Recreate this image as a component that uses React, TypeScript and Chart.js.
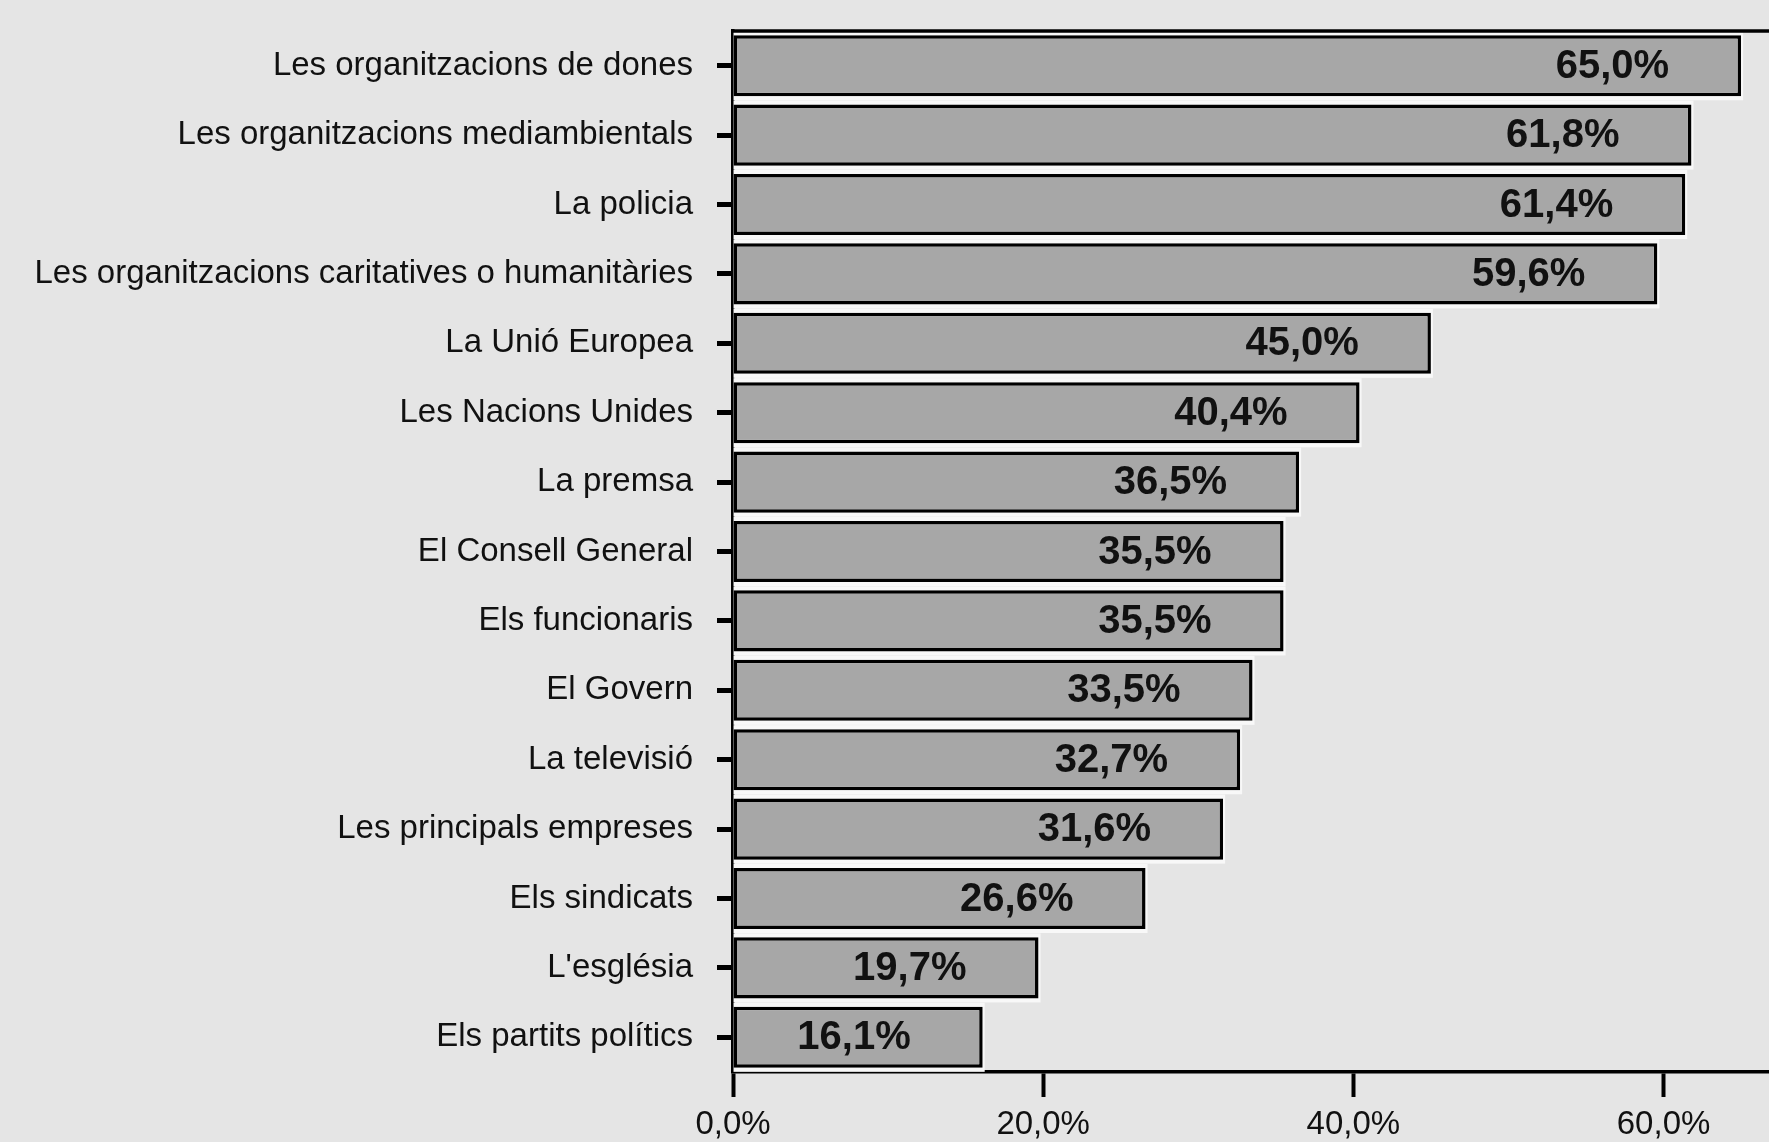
import React, { useEffect, useRef } from "react";
import { Chart, registerables } from "chart.js";

Chart.register(...registerables);

const categories = [
  "Les organitzacions de dones",
  "Les organitzacions mediambientals",
  "La policia",
  "Les organitzacions caritatives o humanitàries",
  "La Unió Europea",
  "Les Nacions Unides",
  "La premsa",
  "El Consell General",
  "Els funcionaris",
  "El Govern",
  "La televisió",
  "Les principals empreses",
  "Els sindicats",
  "L'església",
  "Els partits polítics",
];

const values = [65.0, 61.8, 61.4, 59.6, 45.0, 40.4, 36.5, 35.5, 35.5, 33.5, 32.7, 31.6, 26.6, 19.7, 16.1];

const xTickValues = [0, 20, 40, 60];

const fmt = (v: number) => v.toFixed(1).replace(".", ",") + "%";

const FONT = "'Liberation Sans', Arial, sans-serif";
const BG = "#e5e5e5";
const BAR = "#a7a7a7";
const INK = "#111111";

const framePlugin = {
  id: "frame",
  beforeDraw(chart: any) {
    const { ctx, width, height } = chart;
    ctx.save();
    ctx.fillStyle = BG;
    ctx.fillRect(0, 0, width, height);
    ctx.restore();
  },
  beforeDatasetsDraw(chart: any) {
    const { ctx } = chart;
    const meta = chart.getDatasetMeta(0);
    ctx.save();
    ctx.fillStyle = "#f8f8f8";
    meta.data.forEach((bar: any) => {
      const p = bar.getProps(["x", "y", "base", "height"], true);
      ctx.fillRect(p.base, p.y - p.height / 2 - 4, p.x - p.base + 2, p.height + 8);
    });
    ctx.restore();
  },
  afterDatasetsDraw(chart: any) {
    const { ctx, chartArea } = chart;
    const meta = chart.getDatasetMeta(0);
    ctx.save();
    ctx.fillStyle = INK;
    ctx.font = `bold 40px ${FONT}`;
    ctx.textAlign = "right";
    ctx.textBaseline = "middle";
    meta.data.forEach((bar: any, i: number) => {
      const p = bar.getProps(["x", "y"], true);
      ctx.fillText(fmt(values[i]), p.x - 72, p.y + 1);
    });
    ctx.strokeStyle = "#000";
    ctx.lineWidth = 3.5;
    ctx.beginPath();
    ctx.moveTo(chartArea.left - 1.5, chartArea.top);
    ctx.lineTo(chartArea.right, chartArea.top);
    ctx.stroke();
    ctx.restore();
  },
};

export default function App() {
  const ref = useRef<HTMLCanvasElement | null>(null);
  useEffect(() => {
    if (!ref.current) return;
    const chart = new Chart(ref.current, {
      type: "bar",
      data: {
        labels: categories,
        datasets: [
          {
            data: values,
            backgroundColor: BAR,
            borderColor: "#000",
            borderWidth: 3.5,
            borderSkipped: false,
            categoryPercentage: 1,
            barPercentage: 0.88,
          },
        ],
      },
      options: {
        indexAxis: "y",
        animation: false,
        responsive: false,
        devicePixelRatio: 1,
        layout: { padding: { top: 31, right: 0, left: 0, bottom: 0 } },
        plugins: { legend: { display: false }, tooltip: { enabled: false } },
        scales: {
          x: {
            type: "linear",
            min: 0,
            max: 66.8,
            afterFit: (s: any) => {
              s.height = 70;
              s.paddingLeft = 0;
              s.paddingRight = 0;
            },
            afterBuildTicks: (s: any) => {
              s.ticks = xTickValues.map((v) => ({ value: v }));
            },
            ticks: {
              includeBounds: false,
              stepSize: 20,
              callback: (v: any) => fmt(Number(v)),
              font: { family: FONT, size: 33 },
              color: INK,
              padding: 8,
              maxRotation: 0,
            },
            grid: {
              drawOnChartArea: false,
              tickLength: 25,
              tickWidth: 4,
              tickColor: "#000",
            },
            border: { display: true, color: "#000", width: 3.5 },
          },
          y: {
            afterFit: (s: any) => {
              s.width = 733;
              s.paddingTop = 0;
              s.paddingBottom = 0;
            },
            ticks: {
              font: { family: FONT, size: 33 },
              color: INK,
              padding: 24,
            },
            grid: {
              offset: false,
              drawOnChartArea: false,
              tickLength: 16,
              tickWidth: 5,
              tickColor: "#000",
            },
            border: { display: true, color: "#000", width: 3.5 },
          },
        },
      },
      plugins: [framePlugin],
    });
    return () => chart.destroy();
  }, []);
  return (
    <div style={{ position: "fixed", left: 0, top: 0, width: 1769, height: 1142, overflow: "hidden", background: BG }}>
      <canvas ref={ref} width={1769} height={1142} style={{ display: "block" }} />
    </div>
  );
}
